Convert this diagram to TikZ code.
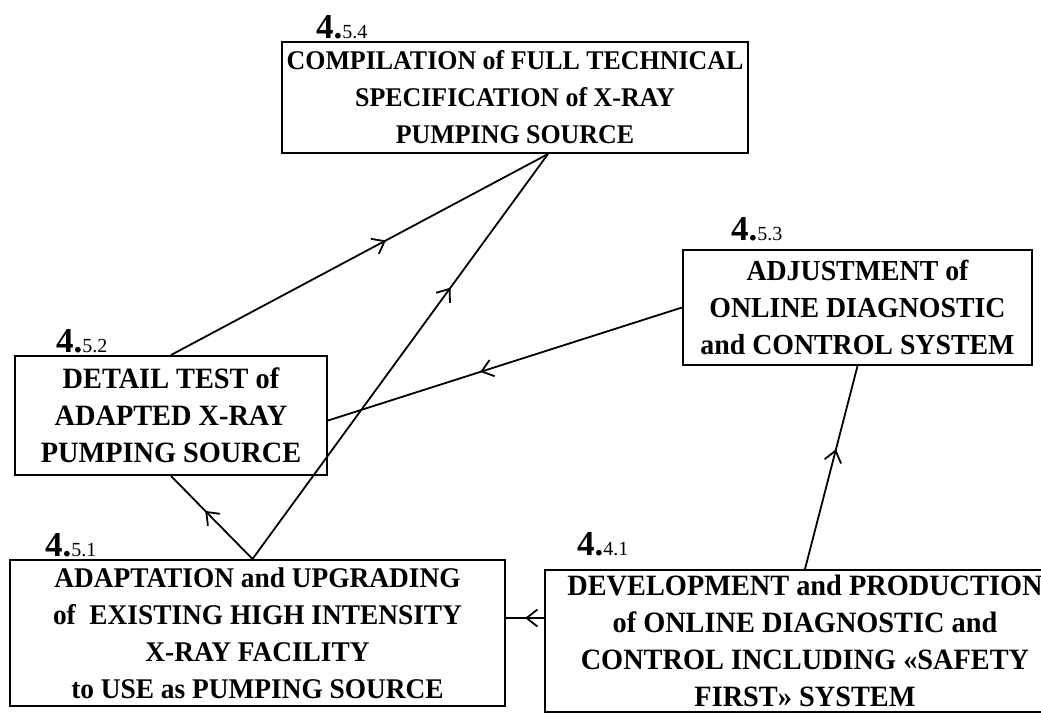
\documentclass[tikz,border=0pt]{standalone}
\usepackage{fontspec}
\setmainfont{Liberation Serif}
\newfontfamily\stagefont{Liberation Serif}[FakeStretch=0.96]
\usetikzlibrary{arrows.meta,decorations.markings}
\newcommand{\stno}[1]{{\fontsize{35}{35}\selectfont\bfseries 4.}{\fontsize{20}{20}\selectfont #1}}
\tikzset{
  stage/.style={draw,line width=2pt,align=center,inner sep=0pt,font=\stagefont\fontsize{#1}{37}\selectfont\bfseries},
  stage/.default=27,
  stagenum/.style={anchor=base west,inner sep=0pt},
  flow/.style={line width=1.8pt,postaction={decorate},
    decoration={markings,mark=at position #1 with {\arrow{Straight Barb[length=11pt,width=17pt,line width=1.8pt]}}}},
  flow/.default=0.55,
}
\begin{document}
\begin{tikzpicture}[x=1pt,y=-1pt]
  \useasboundingbox (0,0) rectangle (1041,721);
  % work stages
  \node[stage,minimum width=466pt,minimum height=111pt] (compile) at (515,97.5)
    {COMPILATION of FULL TECHNICAL\\SPECIFICATION of X-RAY\\PUMPING SOURCE};
  \node[stage=29.5,minimum width=312pt,minimum height=119pt] (detail) at (171,415.5)
    {DETAIL TEST of\\ADAPTED X-RAY\\PUMPING SOURCE};
  \node[stage=29,minimum width=349pt,minimum height=115pt] (adjust) at (857.5,307.5)
    {ADJUSTMENT of\\ONLINE DIAGNOSTIC\\and CONTROL SYSTEM};
  \node[stage=28.5,minimum width=495pt,minimum height=146pt] (adapt) at (257.5,633)
    {ADAPTATION and UPGRADING\\of\ \ EXISTING HIGH INTENSITY\\X-RAY FACILITY\\to USE as PUMPING SOURCE};
  \node[stage=29.5,minimum width=520pt,minimum height=142pt] (develop) at (805,641)
    {DEVELOPMENT and PRODUCTION\\of ONLINE DIAGNOSTIC and\\CONTROL INCLUDING «SAFETY\\FIRST» SYSTEM};
  % stage numbers
  \node[stagenum] (ncompile) at (316,38) {\stno{5.4}};
  \node[stagenum] (ndetail) at (56,352) {\stno{5.2}};
  \node[stagenum] (nadjust) at (731,240) {\stno{5.3}};
  \node[stagenum] (nadapt) at (45,556) {\stno{5.1}};
  \node[stagenum] (ndevelop) at (577,555) {\stno{4.1}};
  % links
  \draw[flow=0.58] ([xshift=-5pt]adapt.north) -- (detail.south);
  \draw[flow=0.67] ([xshift=-5pt]adapt.north) -- ([xshift=33pt]compile.south);
  \draw[flow=0.57] (detail.north) -- ([xshift=33pt]compile.south);
  \draw[flow=0.57] (adjust.west) -- ([yshift=-5pt]detail.east);
  \draw[flow=0.59] (develop.north) -- (adjust.south);
  \draw[flow=0.5] ([yshift=23pt]develop.west) -- ([yshift=15pt]adapt.east);
\end{tikzpicture}
\end{document}
